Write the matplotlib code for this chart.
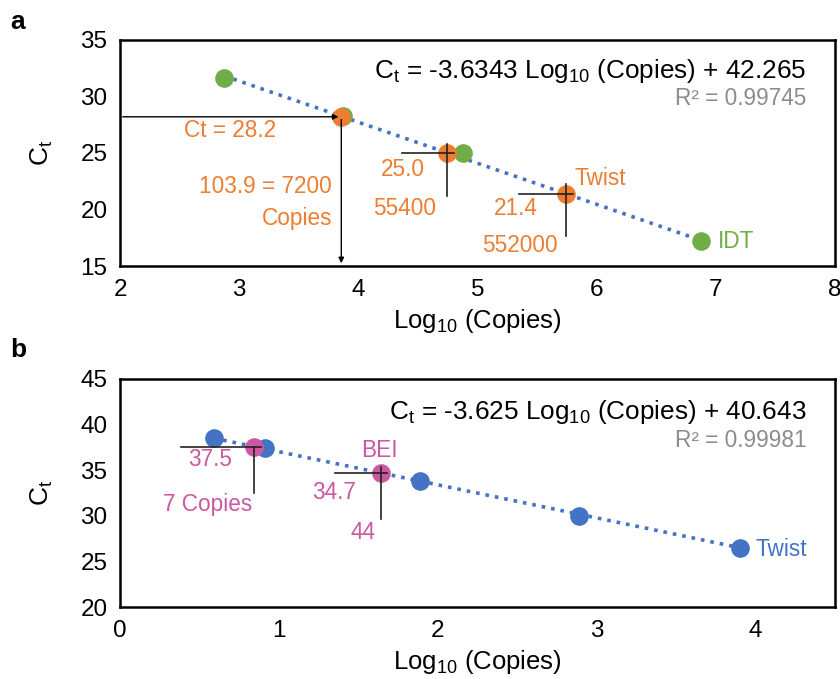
import matplotlib
matplotlib.use('Agg')
import matplotlib.pyplot as plt
import numpy as np

plt.rcParams['font.family'] = ['Liberation Sans', 'DejaVu Sans']
plt.rcParams['mathtext.default'] = 'regular'

# panel a data
idt_x = [2.875, 3.875, 4.875, 6.875]
idt_y = [31.6, 28.3, 25.0, 17.2]
twist_a_x = [3.857, 4.744, 5.742]
twist_a_y = [28.2, 25.0, 21.4]
fit_a = (-3.6343, 42.265)

# panel b data
twist_b_x = [0.59, 0.91, 1.89, 2.89, 3.90]
twist_b_y = [38.5, 37.4, 33.8, 30.0, 26.5]
bei_x = [0.845, 1.643]
bei_y = [37.5, 34.7]
fit_b = (-3.625, 40.643)

green = '#70AD47'
orange = '#ED7D31'
blue = '#4472C4'
pink = '#CB58A0'
gray = '#8C8C8C'

fig = plt.figure(figsize=(8.4, 6.79), dpi=100)
ax1 = fig.add_axes([0.1429, 0.6082, 0.851, 0.333])
ax2 = fig.add_axes([0.1429, 0.106, 0.851, 0.336])

def style(ax):
    for s in ax.spines.values():
        s.set_linewidth(1.8)
    ax.tick_params(length=0, labelsize=17.5, pad=9)
    ax.set_xlabel('Log$_{10}$ (Copies)', fontsize=18.5, labelpad=5)
    ax.set_ylabel('C$_t$', fontsize=19, labelpad=18)

# ---- panel a
xs = np.array([min(idt_x), max(idt_x)])
ax1.plot(xs, fit_a[0] * xs + fit_a[1], ls=':', color=blue, lw=2.6, zorder=1)
ax1.scatter(idt_x, idt_y, s=180, color=green, zorder=3, linewidths=0)
ax1.scatter(twist_a_x, twist_a_y, s=180, color=orange, zorder=3, linewidths=0)

# arrows for the 7200 copies read-off
ax1.annotate('', xy=(twist_a_x[0], twist_a_y[0]), xytext=(2.0, twist_a_y[0]),
             arrowprops=dict(arrowstyle='-|>', color='black', lw=1, mutation_scale=8), zorder=4)
ax1.annotate('', xy=(twist_a_x[0], 15.0), xytext=(twist_a_x[0], twist_a_y[0]),
             arrowprops=dict(arrowstyle='-|>', color='black', lw=1, mutation_scale=8), zorder=4)

# crosshairs
for x, y, l, r, u, d in [(twist_a_x[1], twist_a_y[1], 0.38, 0.06, 0.8, 3.8),
                         (twist_a_x[2], twist_a_y[2], 0.39, 0.06, 0.9, 3.7)]:
    ax1.plot([x - l, x + r], [y, y], color='#222222', lw=1.2, zorder=4)
    ax1.plot([x, x], [y + u, y - d], color='#222222', lw=1.2, zorder=4)

tk = dict(color=orange, fontsize=16.3, va='center')
ax1.text(2.92, 26.95, 'Ct = 28.2', ha='center', **tk)
ax1.text(3.78, 22.0, '103.9 = 7200', ha='right', **tk)
ax1.text(3.78, 19.2, 'Copies', ha='right', **tk)
ax1.text(4.37, 23.5, '25.0', ha='center', **tk)
ax1.text(4.39, 20.1, '55400', ha='center', **tk)
ax1.text(6.03, 22.7, 'Twist', ha='center', **tk)
ax1.text(5.32, 20.1, '21.4', ha='center', **tk)
ax1.text(5.36, 16.8, '552000', ha='center', **tk)
ax1.text(7.02, 17.2, 'IDT', ha='left', color=green, fontsize=16.3, va='center')

ax1.text(0.96, 0.863, 'C$_t$ = -3.6343 Log$_{10}$ (Copies) + 42.265', transform=ax1.transAxes,
         ha='right', va='center', fontsize=18.8)
ax1.text(0.96, 0.743, 'R² = 0.99745', transform=ax1.transAxes,
         ha='right', va='center', fontsize=16.3, color=gray)

ax1.set_xlim(2, 8)
ax1.set_ylim(15, 35)
ax1.set_xticks(range(2, 9))
ax1.set_yticks(range(15, 36, 5))
style(ax1)

# ---- panel b
xs = np.array([min(twist_b_x), max(twist_b_x)])
ax2.plot(xs, fit_b[0] * xs + fit_b[1], ls=':', color=blue, lw=2.6, zorder=1)
ax2.scatter(twist_b_x, twist_b_y, s=180, color=blue, zorder=3, linewidths=0)
ax2.scatter(bei_x, bei_y, s=180, color=pink, zorder=3, linewidths=0)

for x, y, l, r, u, d in [(bei_x[0], bei_y[0], 0.46, 0.04, 0.0, 5.0),
                         (bei_x[1], bei_y[1], 0.29, 0.04, 0.6, 5.0)]:
    ax2.plot([x - l, x + r], [y, y], color='#222222', lw=1.2, zorder=4)
    ax2.plot([x, x], [y + u, y - d], color='#222222', lw=1.2, zorder=4)

tk = dict(color=pink, fontsize=16.3, va='center')
ax2.text(0.57, 36.2, '37.5', ha='center', **tk)
ax2.text(0.55, 31.2, '7 Copies', ha='center', **tk)
ax2.text(1.63, 37.1, 'BEI', ha='center', **tk)
ax2.text(1.35, 32.6, '34.7', ha='center', **tk)
ax2.text(1.53, 28.2, '44', ha='center', **tk)
ax2.text(4.0, 26.25, 'Twist', ha='left', color=blue, fontsize=16.3, va='center')

ax2.text(0.96, 0.855, 'C$_t$ = -3.625 Log$_{10}$ (Copies) + 40.643', transform=ax2.transAxes,
         ha='right', va='center', fontsize=18.8)
ax2.text(0.96, 0.732, 'R² = 0.99981', transform=ax2.transAxes,
         ha='right', va='center', fontsize=16.3, color=gray)

ax2.set_xlim(0, 4.5)
ax2.set_ylim(20, 45)
ax2.set_xticks(range(0, 5))
ax2.set_yticks(range(20, 46, 5))
style(ax2)

fig.text(18 / 840, 1 - 22 / 679, 'a', fontsize=19, fontweight='bold', ha='center', va='center')
fig.text(18 / 840, 1 - 350 / 679, 'b', fontsize=19, fontweight='bold', ha='center', va='center')

fig.savefig('out.png', dpi=100)
